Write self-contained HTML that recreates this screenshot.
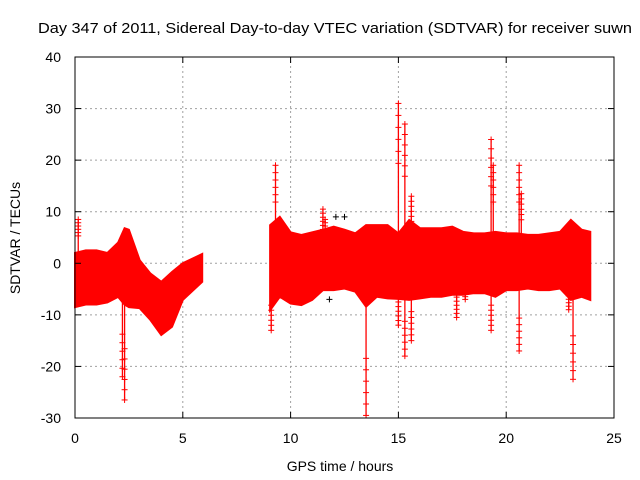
<!DOCTYPE html>
<html><head><meta charset="utf-8"><style>
body{margin:0;background:#fff;}
svg{display:block;font-family:"Liberation Sans",sans-serif;}
</style></head><body>
<svg id="chart" width="640" height="480">
<rect width="640" height="480" fill="#fff"/>
<text x="38" y="33" font-size="15" textLength="594" lengthAdjust="spacingAndGlyphs">Day 347 of 2011, Sidereal Day-to-day VTEC variation (SDTVAR) for receiver suwn</text>
<g id="grid"></g><g id="data"></g><g id="axes"></g>
<text x="340" y="471" font-size="14" text-anchor="middle">GPS time / hours</text>
<text transform="translate(20,238) rotate(-90)" font-size="14" text-anchor="middle">SDTVAR / TECUs</text>
</svg>
<script>
const xTicks=[0,5,10,15,20,25];
const yTicks=[-30,-20,-10,0,10,20,30,40];
const seg1Time=[0,0.5,1,1.5,2,2.3,2.5,3,3.5,4,4.5,5,5.9];
const seg1Upper=[2,2.5,2.5,2,4,6.8,6.5,0.6,-2,-3.6,-1.7,0,1.8];
const seg1Lower=[-8.5,-8,-8,-7.6,-6.5,-8,-8.5,-8.7,-11,-13.9,-12.3,-7.1,-3.6];
const seg2Time=[9.05,9.5,10,10.5,11,11.5,12,12.5,13,13.5,14,14.5,15,15.5,16,16.5,17,17.5,18,18.5,19,19.5,20,20.5,21,21.5,22,22.5,23,23.5,23.9];
const seg2Upper=[7.4,9,6,5.5,6,6.5,7.1,6.5,5.8,7.4,7.4,7.4,5.8,8.4,6.8,6.8,6.8,7.1,6.1,5.8,5.8,6.1,5.8,5.8,5.5,5.5,5.8,6.1,8.4,6.5,6.1];
const seg2Lower=[-9.1,-6.5,-7.8,-8.1,-7.1,-5.2,-5.2,-4.9,-5.5,-8.4,-6.5,-6.8,-6.9,-7.1,-6.8,-6.5,-6.5,-6.1,-6.1,-5.8,-5.8,-6.5,-5.2,-5.2,-4.9,-5.2,-5.2,-4.9,-7.1,-6.5,-7.1];
const spikeTime=[0.15,2.2,2.3,9.1,9.3,11.5,11.6,13.5,15.0,15.0,15.3,15.3,15.6,15.6,17.7,18.1,19.3,19.3,19.4,20.6,20.6,20.7,23.1,22.9];
const spikeValue=[8.5,-22,-26.5,-13,19,10.5,8.5,-29.5,31,-12,27,-18,13,-15,-10.5,-7,24,-13,19,19,-17,13.5,-22.5,-9];
const blackTime=[12.1,12.5,11.8];
const blackValue=[9,9,-7];
const X0=75,X1=614,Y0=418,Y1=57;
const sx=t=>X0+(t-0)/(25-0)*(X1-X0);
const sy=v=>Y0-(v+30)/70*(Y0-Y1);
const NS='http://www.w3.org/2000/svg';
function mk(tag,attrs,parent){const e=document.createElementNS(NS,tag);for(const k in attrs)e.setAttribute(k,attrs[k]);parent.appendChild(e);return e;}
const grid=document.getElementById('grid'),data=document.getElementById('data'),axes=document.getElementById('axes');
xTicks.forEach(t=>{
 if(t>0&&t<25){const g=mk('line',{x1:sx(t),x2:sx(t),y1:Y0,y2:Y1,stroke:'#a0a0a0','stroke-dasharray':'2,3'},grid);
 
 }
 const tk=mk('line',{x1:sx(t),x2:sx(t),y1:Y0,y2:Y0-6,stroke:'#000'},axes);
 
 
 mk('line',{x1:sx(t),x2:sx(t),y1:Y1,y2:Y1+6,stroke:'#000'},axes);
 const l=mk('text',{x:sx(t),y:Y0+25,'font-size':14,'text-anchor':'middle'},axes);l.textContent=t;
 
 
});
yTicks.forEach(v=>{
 if(v>-30&&v<40){const g=mk('line',{x1:X0,x2:X1,y1:sy(v),y2:sy(v),stroke:'#a0a0a0','stroke-dasharray':'2,3'},grid);
 
 }
 const tk=mk('line',{x1:X0,x2:X0+6,y1:sy(v),y2:sy(v),stroke:'#000'},axes);
 
 
 mk('line',{x1:X1,x2:X1-6,y1:sy(v),y2:sy(v),stroke:'#000'},axes);
 const l=mk('text',{x:X0-14,y:sy(v)+5,'font-size':14,'text-anchor':'end'},axes);l.textContent=v;
 
 
});
const frame=mk('rect',{x:X0,y:Y1,width:X1-X0,height:Y0-Y1,fill:'none',stroke:'#000'},axes);


function band(T,U,L,name){
 let p=T.map((t,i)=>sx(t)+','+sy(U[i]));
 p=p.concat(T.map((t,i)=>sx(t)+','+sy(L[i])).reverse());
 const e=mk('polygon',{points:p.join(' '),fill:'#ff0000',stroke:'#ff0000','stroke-width':2},data);
 
 
}
band(seg1Time,seg1Upper,seg1Lower,'sdtvar-band-early');
band(seg2Time,seg2Upper,seg2Lower,'sdtvar-band-late');
function cross(x,y,c,g){mk('line',{x1:x-3,x2:x+3,y1:y,y2:y,stroke:c},g);mk('line',{x1:x,x2:x,y1:y-3,y2:y+3,stroke:c},g);}
blackTime.forEach((t,i)=>{
 const g=mk('g',{},data);
 
 
 cross(sx(t),sy(blackValue[i]),'#000',g);
});
spikeTime.forEach((t,i)=>{
 const g=mk('g',{},data);
 
 
 const v=spikeValue[i];
 mk('line',{x1:sx(t),x2:sx(t),y1:sy(0),y2:sy(v),stroke:'#ff0000','stroke-width':1.3},g);
 cross(sx(t),sy(v),'#ff0000',g);
 const steps=6;
 for(let k=1;k<steps;k++){const vv=v*(0.55+0.45*k/steps);cross(sx(t),sy(vv),'#ff0000',g);}
});
</script>
</body></html>
